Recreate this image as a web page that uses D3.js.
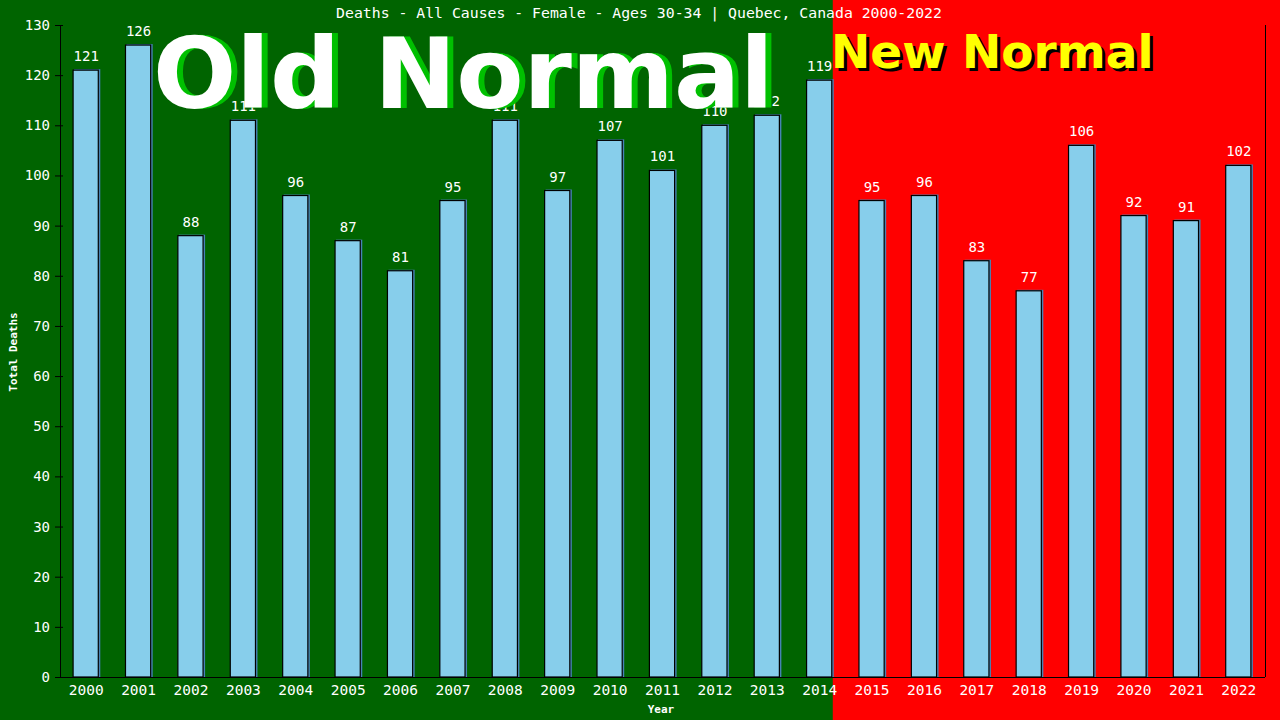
<!DOCTYPE html>
<html>
<head>
<meta charset="utf-8">
<script src="https://cdn.jsdelivr.net/npm/d3@7"></script>
<style>
  html, body { margin: 0; padding: 0; background: #006400; }
  svg { display: block; }
</style>
</head>
<body>
<svg id="chart" width="1280" height="720"></svg>
<script>
const years = ["2000","2001","2002","2003","2004","2005","2006","2007","2008","2009","2010","2011",
               "2012","2013","2014","2015","2016","2017","2018","2019","2020","2021","2022"]
const deaths = [121,126,88,111,96,87,81,95,111,97,107,101,110,112,119,95,96,83,77,106,92,91,102]
const yTicks = [0,10,20,30,40,50,60,70,80,90,100,110,120,130]
const splitYear = "2014"   // last "old normal" year

const W = 1280, H = 720
const mLeft = 60, mRight = 1265, mTop = 25, mBottom = 677
const mono = "'DejaVu Sans Mono', monospace"

let svg = d3.select("#chart")

let x = d3.scaleBand()
	.domain(years)
	.range([mLeft, mRight])
	.paddingInner(0.5)
	.paddingOuter(0.25)

let y = d3.scaleLinear()
	.domain([0, 130])
	.range([mBottom, mTop])

// backgrounds
let splitX = x(splitYear) + x.bandwidth()
svg.append("rect")
	.attr("x", 0).attr("y", 0)
	.attr("width", splitX).attr("height", H)
	.attr("fill", "#006400")
svg.append("rect")
	.attr("x", splitX).attr("y", 0)
	.attr("width", W - splitX).attr("height", H)
	.attr("fill", "#ff0000")

// bars
let bars = svg.append("g")
bars.selectAll("rect.shadow")
	.data(deaths)
	.join("rect")
	.attr("class", "shadow")
	.attr("x", (d, i) => x(years[i]) + 1)
	.attr("y", d => y(d) - 1)
	.attr("width", x.bandwidth())
	.attr("height", d => mBottom - y(d) + 1)
	.attr("fill", "steelblue")

bars.selectAll("rect.bar")
	.data(deaths)
	.join("rect")
	.attr("class", "bar")
	.attr("x", (d, i) => x(years[i]))
	.attr("y", d => y(d))
	.attr("width", x.bandwidth() - 1)
	.attr("height", d => mBottom - y(d))
	.attr("fill", "#87ceeb")
	.attr("stroke", "#000")
	.attr("stroke-width", 1.2)

// value labels
svg.append("g").selectAll("text")
	.data(deaths)
	.join("text")
	.attr("x", (d, i) => x(years[i]) + x.bandwidth() / 2)
	.attr("y", d => y(d) - 9)
	.attr("text-anchor", "middle")
	.attr("font-family", mono)
	.attr("font-size", 14)
	.attr("fill", "#fff")
	.text(d => d)

// big labels (drawn over the bars and labels)
svg.append("text")
	.attr("x", 159).attr("y", 108)
	.attr("font-family", "'DejaVu Sans', sans-serif")
	.attr("font-weight", "bold")
	.attr("font-size", 98)
	.attr("fill", "#00c000")
	.text("Old Normal")
svg.append("text")
	.attr("x", 153).attr("y", 108)
	.attr("font-family", "'DejaVu Sans', sans-serif")
	.attr("font-weight", "bold")
	.attr("font-size", 98)
	.attr("fill", "#ffffff")
	.text("Old Normal")

svg.append("text")
	.attr("x", 834).attr("y", 71)
	.attr("font-family", "'DejaVu Sans', sans-serif")
	.attr("font-weight", "bold")
	.attr("font-size", 47)
	.attr("fill", "#000000")
	.text("New Normal")
svg.append("text")
	.attr("x", 831).attr("y", 68)
	.attr("font-family", "'DejaVu Sans', sans-serif")
	.attr("font-weight", "bold")
	.attr("font-size", 47)
	.attr("fill", "#ffff00")
	.text("New Normal")

// axes
let yAxis = svg.append("g")
	.attr("transform", "translate(" + mLeft + ",0)")
	.call(d3.axisLeft(y).tickValues(yTicks).tickSize(5).tickSizeOuter(0))
yAxis.select(".domain").attr("stroke", "#000")
yAxis.selectAll(".tick line").attr("stroke", "#000").attr("x2", 3).attr("x1", -5)
yAxis.selectAll(".tick text")
	.attr("fill", "#fff")
	.attr("font-family", mono)
	.attr("font-size", 14)
	.attr("x", -10)

let xAxis = svg.append("g")
	.attr("transform", "translate(0," + mBottom + ")")
	.call(d3.axisBottom(x).tickSize(0).tickSizeOuter(0))
xAxis.select(".domain").attr("stroke", "#000").attr("d", "M" + (mLeft - 5) + ",0.5H" + mRight)
xAxis.selectAll(".tick text")
	.attr("fill", "#fff")
	.attr("font-family", mono)
	.attr("font-size", 14.5)
	.attr("dy", "1.05em")

// right frame line
svg.append("line")
	.attr("x1", mRight + 0.5).attr("x2", mRight + 0.5)
	.attr("y1", mTop).attr("y2", mBottom)
	.attr("stroke", "#000")

// titles
svg.append("text")
	.attr("x", 639).attr("y", 18)
	.attr("text-anchor", "middle")
	.attr("font-family", mono)
	.attr("font-size", 14.8)
	.attr("fill", "#fff")
	.text("Deaths - All Causes - Female - Ages 30-34 | Quebec, Canada 2000-2022")

svg.append("text")
	.attr("x", 661).attr("y", 713)
	.attr("text-anchor", "middle")
	.attr("font-family", mono)
	.attr("font-weight", "bold")
	.attr("font-size", 11)
	.attr("fill", "#fff")
	.text("Year")

svg.append("text")
	.attr("transform", "translate(17,352) rotate(-90)")
	.attr("text-anchor", "middle")
	.attr("font-family", mono)
	.attr("font-weight", "bold")
	.attr("font-size", 11)
	.attr("fill", "#fff")
	.text("Total Deaths")
</script>
</body>
</html>
